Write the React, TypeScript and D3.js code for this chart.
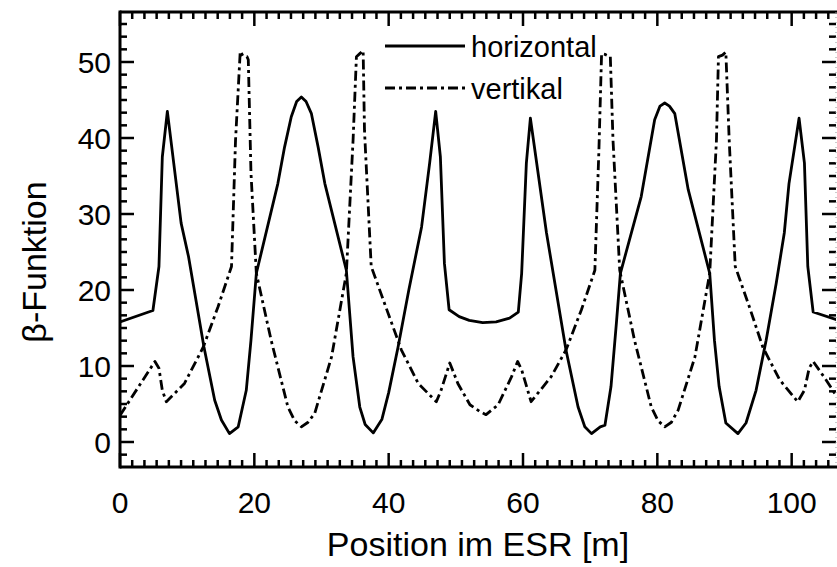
import React from "react";
import * as d3 from "d3";

const horizS = [0, 4.9, 5.8, 6.3, 7.05, 9.1, 10.2, 12.5, 14.1, 15.1, 16.3, 17.6, 18.8, 19.5, 20.3, 23.5, 24.5, 25.5, 26.3, 27.0, 27.7, 28.5, 29.5, 30.5, 33.7, 34.7, 35.7, 36.5, 37.7, 39.0, 40.0, 41.4, 43.0, 44.9, 46.1, 47.0, 47.7, 48.3, 49.0, 50.5, 52.0, 54.0, 56.0, 58.0, 59.3, 59.8, 60.5, 61.1, 63.5, 66.4, 68.2, 69.2, 70.2, 71.5, 72.2, 73.1, 73.9, 74.5, 77.6, 79.6, 80.4, 81.1, 81.8, 82.6, 84.6, 87.8, 88.5, 89.2, 90.2, 92.0, 93.2, 94.7, 96.2, 97.7, 98.9, 99.6, 101.1, 101.9, 102.4, 103.2, 106.7];
const horizBeta = [15.8, 17.3, 23.1, 37.5, 43.5, 28.8, 24.4, 12.5, 5.5, 2.9, 1.1, 2.0, 6.8, 13.4, 22.2, 34.0, 38.8, 42.8, 44.8, 45.4, 44.8, 43.2, 38.8, 34.0, 22.6, 11.2, 4.6, 2.3, 1.2, 3.0, 6.5, 12.5, 20.0, 28.3, 36.7, 43.5, 37.5, 23.5, 17.4, 16.5, 16.0, 15.7, 15.8, 16.3, 17.1, 22.2, 36.7, 42.6, 27.5, 12.1, 4.6, 2.0, 1.1, 2.0, 2.2, 7.3, 15.6, 22.2, 32.3, 42.4, 44.2, 44.6, 44.2, 43.2, 33.2, 22.2, 13.4, 7.3, 2.5, 1.1, 2.5, 6.8, 13.4, 20.9, 27.5, 34.0, 42.6, 36.7, 23.1, 17.1, 16.1];

const vertS = [0, 5.2, 5.8, 6.3, 6.9, 9.6, 12.4, 14.6, 16.6, 17.2, 17.9, 18.3, 18.9, 19.1, 19.5, 20.3, 22.5, 25.0, 26.0, 27.0, 28.0, 29.0, 31.5, 33.7, 34.7, 35.2, 35.7, 36.2, 36.4, 37.4, 39.4, 41.9, 44.4, 47.1, 47.8, 49.1, 50.3, 52.1, 53.6, 54.5, 56.3, 58.3, 59.2, 59.8, 61.2, 64.2, 66.4, 68.7, 70.7, 71.3, 71.7, 72.2, 73.0, 73.4, 74.4, 76.6, 79.1, 80.1, 81.1, 82.1, 83.1, 85.6, 87.8, 88.8, 89.1, 89.7, 90.2, 90.7, 91.6, 93.7, 95.7, 98.2, 100.9, 101.9, 102.6, 103.2, 105.1, 106.7];
const vertBeta = [3.5, 10.6, 9.7, 6.8, 5.3, 7.7, 12.5, 17.8, 23.1, 39.7, 51.4, 50.8, 50.7, 50.3, 35.4, 22.2, 13.4, 4.6, 2.8, 2.0, 2.6, 3.8, 11.2, 22.2, 39.7, 50.7, 51.1, 51.5, 41.0, 23.1, 18.2, 12.1, 7.7, 5.3, 6.8, 10.4, 7.7, 4.9, 4.0, 3.6, 4.9, 8.6, 10.6, 9.5, 5.3, 8.6, 12.1, 17.4, 22.6, 38.4, 51.1, 51.0, 50.7, 39.7, 22.6, 13.4, 4.6, 2.8, 2.0, 2.6, 4.2, 11.2, 22.2, 39.7, 50.7, 50.9, 51.3, 39.7, 23.1, 17.8, 12.5, 8.2, 5.3, 6.8, 9.7, 10.6, 8.2, 6.0];

const xTickValues = [0, 20, 40, 60, 80, 100];
const yTickValues = [0, 10, 20, 30, 40, 50];
const legendLabels = ["horizontal", "vertikal"];
const xTitle = "Position im ESR [m]";
const yTitle = "β-Funktion";

const W = 837;
const H = 567;
const left = 120;
const right = 836;
const top = 12;
const bottom = 467;
const FONT = "'Liberation Sans', Arial, Helvetica, sans-serif";
const DASH = "10,4,3,4";

export default function App() {
  const x = d3.scaleLinear().domain([0, 106.6]).range([left, right]);
  const y = d3.scaleLinear().domain([0, 50]).range([442, 62]);
  const yMin = y.invert(bottom);
  const yMax = y.invert(top);
  const xMax = x.invert(right);

  const xMinor: number[] = [];
  for (let i = 0; ; i++) {
    const v = (i * 20) / 11;
    if (v > xMax + 1e-6) break;
    if (i % 11 !== 0) xMinor.push(v);
  }
  const yMinor: number[] = [];
  for (let i = Math.ceil((yMin * 6) / 10); ; i++) {
    const v = (i * 10) / 6;
    if (v > yMax + 1e-6) break;
    if (i % 6 !== 0) yMinor.push(v);
  }

  const hLine = d3
    .line<number>()
    .x((_, i) => x(horizS[i]))
    .y((d) => y(d));
  const vLine = d3
    .line<number>()
    .x((_, i) => x(vertS[i]))
    .y((d) => y(d));

  const tickW = 2.5;
  const majorLen = 14;
  const minorLen = 7;

  return (
    <svg
      width={W}
      height={H}
      style={{ position: "absolute", left: 0, top: 0, background: "#fff" }}
      fontFamily={FONT}
    >
      <defs>
        <clipPath id="plotclip">
          <rect x={left} y={top} width={right - left} height={bottom - top} />
        </clipPath>
      </defs>
      <rect width={W} height={H} fill="#fff" />

      <g clipPath="url(#plotclip)" fill="none" stroke="#000" strokeWidth={2.8} strokeLinejoin="round">
        <path d={hLine(horizBeta) || ""} />
        <path d={vLine(vertBeta) || ""} strokeDasharray={DASH} />
      </g>

      {/* ticks */}
      <g stroke="#000" strokeWidth={tickW}>
        {xTickValues.map((v) => (
          <g key={"xt" + v}>
            <line x1={x(v)} x2={x(v)} y1={bottom} y2={bottom - majorLen} />
            <line x1={x(v)} x2={x(v)} y1={top} y2={top + majorLen} />
          </g>
        ))}
        {xMinor.map((v, i) => (
          <g key={"xm" + i}>
            <line x1={x(v)} x2={x(v)} y1={bottom} y2={bottom - minorLen} />
            <line x1={x(v)} x2={x(v)} y1={top} y2={top + minorLen} />
          </g>
        ))}
        {yTickValues.map((v) => (
          <g key={"yt" + v}>
            <line x1={left} x2={left + majorLen} y1={y(v)} y2={y(v)} />
            <line x1={right} x2={right - majorLen} y1={y(v)} y2={y(v)} />
          </g>
        ))}
        {yMinor.map((v, i) => (
          <g key={"ym" + i}>
            <line x1={left} x2={left + minorLen} y1={y(v)} y2={y(v)} />
            <line x1={right} x2={right - minorLen} y1={y(v)} y2={y(v)} />
          </g>
        ))}
      </g>

      {/* frame */}
      <line x1={left} x2={right + 2} y1={top} y2={top} stroke="#000" strokeWidth={3} />
      <line x1={left} x2={right + 2} y1={bottom} y2={bottom} stroke="#000" strokeWidth={3} />
      <line x1={left} x2={left} y1={top - 1.5} y2={bottom + 1.5} stroke="#000" strokeWidth={3} />
      <line x1={right} x2={right} y1={top} y2={bottom} stroke="#999" strokeWidth={1} strokeDasharray="1,4" />

      {/* tick labels */}
      <g fontSize={30} fill="#000">
        {xTickValues.map((v) => (
          <text key={"xl" + v} x={x(v)} y={513} textAnchor="middle">
            {v}
          </text>
        ))}
        {yTickValues.map((v) => (
          <text key={"yl" + v} x={111} y={y(v) + 11} textAnchor="end">
            {v}
          </text>
        ))}
      </g>

      {/* axis titles */}
      <text x={478} y={556} textAnchor="middle" fontSize={34} fill="#000">
        {xTitle}
      </text>
      <text transform="translate(46,262) rotate(-90)" textAnchor="middle" fontSize={34} fill="#000">
        {yTitle}
      </text>

      {/* legend */}
      <g stroke="#000" strokeWidth={2.8}>
        <line x1={385} x2={465} y1={46} y2={46} />
        <line x1={385} x2={465} y1={88} y2={88} strokeDasharray={DASH} />
      </g>
      <g fontSize={29} fill="#000">
        <text x={471} y={57}>{legendLabels[0]}</text>
        <text x={471} y={99}>{legendLabels[1]}</text>
      </g>
    </svg>
  );
}
